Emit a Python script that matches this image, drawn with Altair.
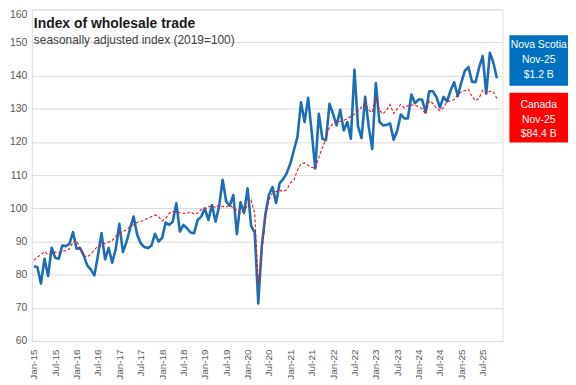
import json
import altair as alt
import pandas as pd

# Monthly index values, Jan-15 .. Nov-25 (2019=100)
nova_scotia = [
    82.5, 82.2, 77.3, 84.8, 79.6, 88.1, 85.1, 84.8, 88.8, 88.6, 89.3, 92.8,
    87.8, 88.0, 85.8, 82.8, 81.5, 79.8, 85.8, 92.5, 84.6, 88.1, 83.6, 87.8,
    95.3, 86.8, 89.8, 93.8, 97.5, 92.0, 89.5, 88.3, 88.0, 88.7, 92.3, 90.0,
    91.0, 95.7, 95.0, 96.0, 101.5, 93.0, 95.0, 94.0, 92.7, 92.5, 96.5, 97.5,
    100.0, 96.5, 101.0, 96.0, 100.5, 108.6, 102.0, 100.8, 104.0, 92.2, 101.8, 98.6,
    106.0, 94.7, 92.7, 71.3, 88.7, 98.2, 104.1, 106.4, 101.6, 107.6, 108.8, 110.6,
    113.5, 117.5, 121.5, 132.0, 126.0, 133.3, 123.0, 112.0, 128.5, 121.0, 120.5, 131.5,
    128.5, 125.0, 129.7, 123.5, 126.0, 121.0, 141.8, 124.7, 121.2, 133.6, 124.7, 117.9,
    137.8, 126.1, 125.0, 125.1, 125.6, 120.7, 123.4, 128.3, 127.1, 127.1, 134.3, 131.7,
    132.8, 132.8, 129.0, 135.3, 135.3, 133.6, 130.4, 133.6, 132.2, 135.6, 138.0, 133.8,
    138.0, 141.5, 142.6, 138.2, 138.0, 142.5, 145.9, 134.6, 146.9, 143.9, 139.2,
]
canada = [
    84.3, 85.3, 86.0, 87.0, 86.0, 86.3, 86.8, 86.6, 87.0, 87.3, 87.8, 89.8,
    90.3, 87.8, 85.8, 85.3, 86.2, 87.5, 88.6, 88.8, 89.5, 89.8, 90.3, 91.5,
    92.5, 93.0, 93.5, 94.5, 95.0, 95.7, 96.0, 96.5, 97.0, 97.5, 98.0, 97.5,
    96.2, 97.0, 98.5, 99.0, 98.7, 98.7, 98.5, 98.5, 99.0, 98.2, 98.5, 99.7,
    99.7, 100.5, 100.8, 100.2, 101.0, 100.5, 100.5, 101.0, 100.0, 99.5, 98.4, 99.3,
    100.8, 102.4, 98.5, 77.3, 86.7, 96.9, 102.6, 104.6, 105.1, 105.4, 105.1, 105.6,
    107.6, 108.5, 111.5, 113.5, 113.7, 113.0, 112.4, 112.0, 115.3, 118.3, 121.0, 124.5,
    125.5, 126.0, 126.2, 126.5, 127.0, 127.8, 128.3, 129.3, 130.5, 131.6, 129.6, 128.9,
    133.6, 129.6, 128.5, 129.5, 131.3, 128.6, 130.0, 131.3, 130.2, 131.0, 131.2, 131.0,
    130.7, 130.0, 128.4, 132.4, 131.7, 130.2, 129.4, 130.4, 132.2, 132.4, 132.8, 134.3,
    135.1, 135.5, 135.9, 133.6, 132.4, 133.3, 135.6, 134.6, 135.3, 135.1, 133.1,
]
tick_labels = [
    "Jan-15", "Jul-15", "Jan-16", "Jul-16", "Jan-17", "Jul-17", "Jan-18", "Jul-18",
    "Jan-19", "Jul-19", "Jan-20", "Jul-20", "Jan-21", "Jul-21", "Jan-22", "Jul-22",
    "Jan-23", "Jul-23", "Jan-24", "Jul-24", "Jan-25", "Jul-25",
]
ns_box_text = ["Nova Scotia", "Nov-25", "$1.2 B"]
ca_box_text = ["Canada", "Nov-25", "$84.4 B"]
y_ticks = [60, 70, 80, 90, 100, 110, 120, 130, 140, 150, 160]

assert len(nova_scotia) == 131 and len(canada) == 131
months = list(range(len(nova_scotia)))

df_ns = pd.DataFrame({"m": months, "v": nova_scotia})
df_ca = pd.DataFrame({"m": months, "v": canada})
one = pd.DataFrame({"a": [0]})

FONT = "Liberation Sans"
LABEL = "#595959"

x_enc = alt.X(
    "m:Q",
    scale=alt.Scale(domain=[-0.56, 131.55], nice=False, zero=False),
    axis=alt.Axis(
        values=list(range(0, 127, 6)),
        labelExpr=f"{json.dumps(tick_labels)}[round(datum.value / 6)]",
        labelAngle=270,
        grid=False, domain=False, ticks=False,
        labelPadding=8, labelFontSize=10, labelColor=LABEL, labelFont=FONT,
        title=None,
    ),
)
y_enc = alt.Y(
    "v:Q",
    scale=alt.Scale(domain=[60, 160], nice=False, zero=False),
    axis=alt.Axis(
        values=y_ticks,
        grid=True, gridColor="#d9d9d9", gridWidth=1,
        domain=False, ticks=False,
        labelPadding=5, labelFontSize=10.5, labelColor=LABEL, labelFont=FONT,
        labelBaseline={"condition": {"test": "datum.value >= 160", "value": "top"}, "value": "middle"},
        title=None,
    ),
)

ns_line = alt.Chart(df_ns).mark_line(color="#1D6DB6", strokeWidth=2.6, strokeJoin="round").encode(x=x_enc, y=y_enc)
ca_line = alt.Chart(df_ca).mark_line(color="#E8161B", strokeWidth=1.1, strokeDash=[3, 2]).encode(x=x_enc, y=y_enc)

ns_box = alt.Chart(one).mark_rect(color="#0070C0").encode(
    x=alt.value(481), x2=alt.value(540), y=alt.value(26), y2=alt.value(77))
ca_box = alt.Chart(one).mark_rect(color="#FF0000").encode(
    x=alt.value(481), x2=alt.value(540), y=alt.value(84), y2=alt.value(134))
ns_txt = alt.Chart(one).mark_text(
    text=ns_box_text, color="white", font=FONT, fontSize=10.5,
    lineHeight=15, align="center", baseline="middle").encode(x=alt.value(510.5), y=alt.value(36))
ca_txt = alt.Chart(one).mark_text(
    text=ca_box_text, color="white", font=FONT, fontSize=10.5,
    lineHeight=15, align="center", baseline="middle").encode(x=alt.value(510.5), y=alt.value(96))

chart = alt.layer(ns_line, ca_line, ns_box, ca_box, ns_txt, ca_txt).properties(
    width=474,
    height=334,
    autosize="none",
    padding={"left": 24, "right": 66, "top": 0, "bottom": 42},
    title=alt.TitleParams(
        "Index of wholesale trade",
        subtitle="seasonally adjusted index (2019=100)",
        anchor="start", frame="group", offset=-37, dx=2,
        font=FONT, fontSize=14, fontWeight="bold", color="#1a1a1a",
        subtitleFont=FONT, subtitleFontSize=12, subtitleColor="#404040", subtitlePadding=4,
    ),
).configure_view(strokeWidth=0).configure(background="white")

chart.save("out.html", embed_options={"renderer": "svg", "actions": False})
